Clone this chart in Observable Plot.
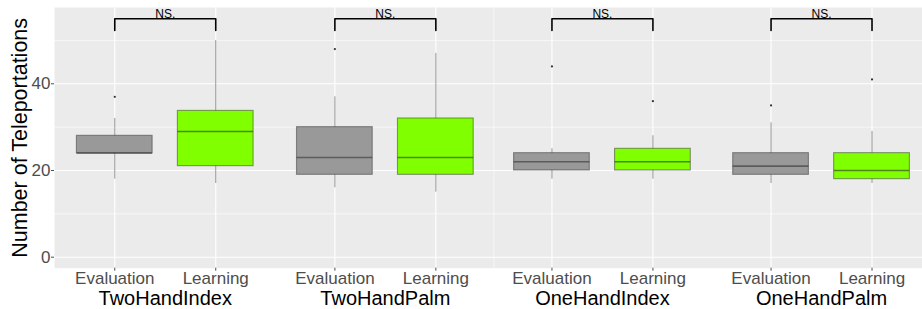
<!DOCTYPE html>
<html>
<head>
<meta charset="utf-8">
<script src="https://cdn.jsdelivr.net/npm/d3@7"></script>
<script src="https://cdn.jsdelivr.net/npm/@observablehq/plot@0.6"></script>
<style>
  html, body { margin: 0; padding: 0; background: #fff; }
  #chart svg { display: block; }
</style>
</head>
<body>
<div id="chart"></div>
<script>
// ---- data ----
const groups = ["TwoHandIndex", "TwoHandPalm", "OneHandIndex", "OneHandPalm"];
const conditions = ["Evaluation", "Learning"];
const xPos = [1, 2, 3.18, 4.18, 5.33, 6.33, 7.5, 8.5];
const whiskerLow  = [18, 17, 16, 15, 18, 18, 17, 17];
const q1          = [24, 21, 19, 19, 20, 20, 19, 18];
const median      = [24, 29, 23, 23, 22, 22, 21, 20];
const q3          = [28, 33.75, 30, 32, 24, 25, 24, 24];
const whiskerHigh = [32, 50, 37, 47, 25, 28, 31, 29];
const outliers    = [[37], [], [48], [], [44], [36], [35], [41]];
const sigLabels   = ["NS.", "NS.", "NS.", "NS."];
const bracketTop = 55, bracketBottom = 52.3;
const yMajor = [0, 20, 40];
const yMinor = [10, 30, 50];
const xMinor = [4.755];
const fillColors = {Evaluation: "#999999", Learning: "#7FFF00"};

// ---- derived tables ----
const halfWidth = 0.375;
const boxes = xPos.map((x, i) => ({
  x, group: groups[Math.floor(i / 2)], cond: conditions[i % 2],
  lo: whiskerLow[i], q1: q1[i], med: median[i], q3: q3[i], hi: whiskerHigh[i]
}));
const outlierPts = boxes.flatMap((b, i) => outliers[i].map(v => ({x: b.x, y: v})));
const brackets = groups.flatMap((g, k) => {
  const a = xPos[2 * k], b = xPos[2 * k + 1];
  return [
    {g, x: a, y: bracketBottom}, {g, x: a, y: bracketTop},
    {g, x: b, y: bracketTop}, {g, x: b, y: bracketBottom}
  ];
});
const groupCenters = groups.map((g, k) => ({g, x: (xPos[2 * k] + xPos[2 * k + 1]) / 2, s: sigLabels[k]}));

const chart = Plot.plot({
  width: 922,
  height: 309,
  marginTop: 7,
  marginBottom: 41.3,
  marginLeft: 54,
  marginRight: 0,
  style: {fontFamily: "'Liberation Sans', Arial, sans-serif", background: "#fff"},
  x: {domain: [0.403, 9.0]},
  y: {domain: [-2.54, 57.6]},
  marks: [
    Plot.frame({fill: "#EBEBEB", stroke: null}),
    Plot.gridY(yMinor, {stroke: "#fff", strokeOpacity: 1, strokeWidth: 0.6}),
    Plot.gridY(yMajor, {stroke: "#fff", strokeOpacity: 1, strokeWidth: 1.1}),
    Plot.gridX(xMinor, {stroke: "#fff", strokeOpacity: 1, strokeWidth: 0.6}),
    Plot.gridX(xPos, {stroke: "#fff", strokeOpacity: 1, strokeWidth: 1.1}),
    Plot.ruleX(boxes, {x: "x", y1: "lo", y2: "hi", stroke: "#333", strokeOpacity: 0.5, strokeWidth: 1}),
    Plot.rect(boxes, {
      x1: d => d.x - halfWidth, x2: d => d.x + halfWidth, y1: "q1", y2: "q3",
      fill: d => fillColors[d.cond], stroke: "#333", strokeOpacity: 0.5, strokeWidth: 1.1
    }),
    Plot.ruleY(boxes, {
      x1: d => d.x - halfWidth, x2: d => d.x + halfWidth, y: "med",
      stroke: "#333", strokeOpacity: 0.6, strokeWidth: 1.6
    }),
    Plot.dot(outlierPts, {x: "x", y: "y", r: 1.1, fill: "#333", stroke: null}),
    Plot.line(brackets, {x: "x", y: "y", z: "g", stroke: "#000", strokeWidth: 1.6, curve: "linear"}),
    Plot.text(groupCenters, {x: "x", y: () => bracketTop, text: "s", lineAnchor: "bottom", dy: -1, fontSize: 12, fill: "#000"}),
    Plot.axisX({
      ticks: xPos, tickFormat: (d) => conditions[xPos.indexOf(d) % 2],
      tickSize: 3, tickPadding: 1, fontSize: 17, color: "#4D4D4D", label: null
    }),
    Plot.axisY({
      ticks: yMajor, tickSize: 3, tickPadding: 1, fontSize: 17, color: "#4D4D4D", label: null
    }),
    Plot.text(groupCenters, {
      x: "x", frameAnchor: "bottom", lineAnchor: "middle", text: "g",
      dy: 30, fontSize: 20, fill: "#000"
    }),
    Plot.text(["Number of Teleportations"], {
      frameAnchor: "left", textAnchor: "middle", lineAnchor: "middle",
      text: d => d, rotate: -90, dx: -34, fontSize: 21.5, fill: "#000"
    })
  ]
});
document.getElementById("chart").appendChild(chart);
</script>
</body>
</html>
